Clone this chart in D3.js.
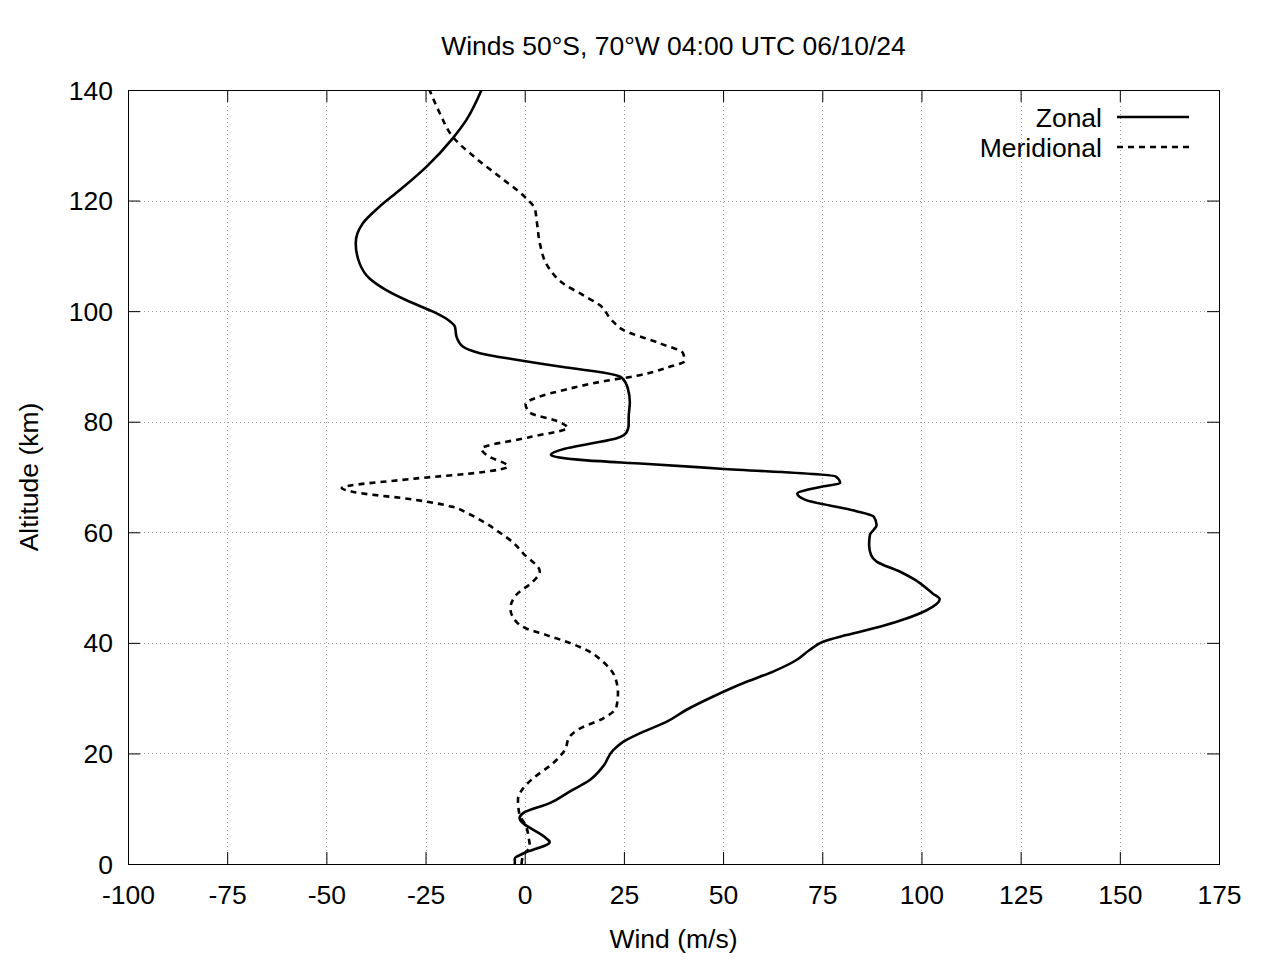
<!DOCTYPE html>
<html>
<head>
<meta charset="utf-8">
<script src="https://cdn.jsdelivr.net/npm/d3@7"></script>
<style>
  html, body { margin: 0; padding: 0; background: #fff; }
  svg { display: block; font-family: "Liberation Sans", Arial, sans-serif; }
</style>
</head>
<body>
<svg id="chart" width="1280" height="960"></svg>
<script>
// ---- data ----
const titleText = "Winds 50°S, 70°W 04:00 UTC 06/10/24";
const xTicks = [-100, -75, -50, -25, 0, 25, 50, 75, 100, 125, 150, 175];
const yTicks = [0, 20, 40, 60, 80, 100, 120, 140];
const seriesNames = ["Zonal", "Meridional"];

const zonalAlt = [0, 1.0, 1.9, 4.0, 4.6, 8.3, 9.2, 11.0, 13.1, 15.2, 17.6, 20.6, 22.1, 23.9, 25.7, 27.9, 30.3, 32.7, 34.8, 36.9, 38.7, 40.2, 41.4, 42.9, 44.4, 45.9, 47.9, 48.9, 51.6, 52.9, 54.7, 55.9, 57.7, 59.5, 61.3, 62.8, 63.9, 65.9, 67.0, 68.2, 68.9, 70.1, 71.5, 72.4, 73.0, 74.0, 75.1, 76.0, 77.0, 78.1, 79.4, 80.8, 83.5, 86.0, 88.0, 88.9, 89.8, 91.2, 92.4, 93.6, 95.4, 97.2, 98.4, 99.9, 101.7, 103.8, 105.9, 108.6, 112.3, 115.9, 118.9, 121.9, 126.1, 131.3, 134.6, 140];
const zonalWind = [-2.5, -2.5, -0.4, 6.3, 5.5, -1.3, -0.4, 6.3, 11.3, 16.4, 19.7, 22.3, 24.8, 29.8, 35.7, 40.8, 47.5, 55.0, 62.6, 68.5, 71.8, 75.2, 81.1, 89.5, 96.2, 101.3, 104.6, 102.9, 97.9, 94.5, 88.7, 87.3, 86.8, 87.0, 88.7, 88.0, 83.2, 70.6, 68.7, 74.5, 79.5, 78.4, 49.4, 30.1, 15.6, 6.6, 10.1, 16.4, 23.2, 25.7, 26.2, 26.2, 26.5, 26.0, 24.4, 19.7, 10.5, -2.1, -11.3, -15.6, -17.2, -17.6, -19.3, -23.1, -29.0, -34.9, -39.1, -41.6, -42.6, -40.8, -36.6, -31.5, -24.8, -18.1, -14.7, -10.9];

const meridAlt = [0, 1.6, 3.1, 4.3, 6.7, 9.2, 11.6, 13.7, 15.5, 18.2, 20.6, 23.0, 24.5, 26.3, 28.4, 30.9, 33.9, 36.6, 38.7, 40.2, 41.4, 42.6, 43.8, 46.2, 48.7, 51.1, 52.9, 56.2, 58.0, 60.1, 61.9, 63.4, 64.6, 65.9, 67.3, 68.0, 69.7, 70.9, 71.9, 73.9, 75.1, 77.2, 78.9, 79.9, 81.7, 83.2, 84.4, 85.9, 87.4, 88.3, 89.8, 91.0, 92.4, 94.2, 96.6, 98.4, 101.1, 102.9, 105.0, 108.0, 112.3, 115.9, 118.6, 120.4, 124.3, 127.6, 131.5, 135.8, 140];
const meridWind = [-0.8, -0.4, 1.3, 1.1, 0.4, -1.4, -1.7, -0.4, 2.1, 7.1, 10.1, 11.3, 13.9, 19.7, 23.1, 23.5, 22.7, 19.7, 15.6, 10.5, 5.5, 0.4, -2.1, -3.6, -2.1, 2.1, 3.8, -0.4, -2.7, -6.6, -10.4, -14.3, -18.2, -27.8, -43.2, -46.1, -27.8, -10.4, -4.2, -9.5, -10.9, 1.2, 10.8, 8.9, 1.2, 0.2, 3.1, 10.8, 20.5, 28.2, 35.9, 40.3, 39.9, 34.0, 24.8, 21.9, 18.9, 14.7, 9.7, 5.9, 3.8, 3.1, 2.5, 0.4, -6.3, -12.2, -18.1, -21.4, -24.0];

// ---- layout ----
const L = 128, R = 1219, T = 90, B = 864;
const FS = 26.5;
const svg = d3.select("#chart");
svg.append("rect").attr("width", 1280).attr("height", 960).attr("fill", "#fff");

const x = d3.scaleLinear().domain([-100, 175]).range([L, R]);
const y = d3.scaleLinear().domain([0, 140]).range([B, T]);

// grid
const grid = svg.append("g").attr("stroke", "#a0a0a0").attr("stroke-width", 1).attr("stroke-dasharray", "1,3");
grid.selectAll("line.v").data(xTicks.slice(1, -1)).join("line")
  .attr("x1", d => Math.round(x(d)) + 0.5).attr("x2", d => Math.round(x(d)) + 0.5)
  .attr("y1", T).attr("y2", B);
grid.selectAll("line.h").data(yTicks.slice(1, -1)).join("line")
  .attr("y1", d => Math.round(y(d)) + 0.5).attr("y2", d => Math.round(y(d)) + 0.5)
  .attr("x1", L).attr("x2", R);

// axes
const fmt = d => String(d);
const gB = svg.append("g").attr("transform", `translate(0,${B})`)
  .call(d3.axisBottom(x).tickValues(xTicks).tickFormat(fmt).tickSize(-12).tickSizeOuter(0));
const gT = svg.append("g").attr("transform", `translate(0,${T})`)
  .call(d3.axisTop(x).tickValues(xTicks).tickFormat("").tickSize(-12).tickSizeOuter(0));
const gL = svg.append("g").attr("transform", `translate(${L},0)`)
  .call(d3.axisLeft(y).tickValues(yTicks).tickFormat(fmt).tickSize(-12).tickSizeOuter(0));
const gR = svg.append("g").attr("transform", `translate(${R},0)`)
  .call(d3.axisRight(y).tickValues(yTicks).tickFormat("").tickSize(-12).tickSizeOuter(0));
[gB, gT, gL, gR].forEach(g => {
  g.select(".domain").remove();
  g.selectAll(".tick line").attr("stroke", "#000").attr("stroke-width", 1);
  g.selectAll("text").attr("fill", "#000").attr("font-size", FS).attr("font-family", "Liberation Sans, Arial, sans-serif");
});
gB.selectAll(".tick text").attr("y", 40).attr("dy", null);
gL.selectAll(".tick text").attr("x", -15).attr("dy", "0.34em");

// border
svg.append("rect").attr("x", L + 0.5).attr("y", T + 0.5).attr("width", R - L).attr("height", B - T)
  .attr("fill", "none").attr("stroke", "#000").attr("stroke-width", 1);

// lines
svg.append("clipPath").attr("id", "clip").append("rect")
  .attr("x", L).attr("y", T).attr("width", R - L).attr("height", B - T);
const mk = d3.line().x(d => x(d[0])).y(d => y(d[1])).curve(d3.curveMonotoneY);
const zonal = zonalWind.map((w, i) => [w, zonalAlt[i]]);
const merid = meridWind.map((w, i) => [w, meridAlt[i]]);
const plot = svg.append("g").attr("clip-path", "url(#clip)");
plot.append("path").attr("d", mk(zonal)).attr("fill", "none").attr("stroke", "#000")
  .attr("stroke-width", 2.6).attr("stroke-linejoin", "round");
plot.append("path").attr("d", mk(merid)).attr("fill", "none").attr("stroke", "#000")
  .attr("stroke-width", 2.6).attr("stroke-dasharray", "6,5").attr("stroke-linejoin", "round");

// legend
const leg = svg.append("g");
const legY = [117, 147];
const dashes = [null, "6,5"];
seriesNames.forEach((n, i) => {
  leg.append("text").attr("x", 1102).attr("y", legY[i]).attr("dy", "0.36em")
    .attr("text-anchor", "end").attr("font-size", FS).text(n);
  leg.append("line").attr("x1", 1117).attr("x2", 1189).attr("y1", legY[i]).attr("y2", legY[i])
    .attr("stroke", "#000").attr("stroke-width", 2.6).attr("stroke-dasharray", dashes[i]);
});

// titles
svg.append("text").attr("x", (L + R) / 2).attr("y", 55).attr("text-anchor", "middle")
  .attr("font-size", FS).text(titleText);
svg.append("text").attr("x", (L + R) / 2).attr("y", 948).attr("text-anchor", "middle")
  .attr("font-size", FS).text("Wind (m/s)");
svg.append("text").attr("transform", `translate(38,${(T + B) / 2}) rotate(-90)`).attr("text-anchor", "middle")
  .attr("font-size", FS).text("Altitude (km)");
</script>
</body>
</html>
